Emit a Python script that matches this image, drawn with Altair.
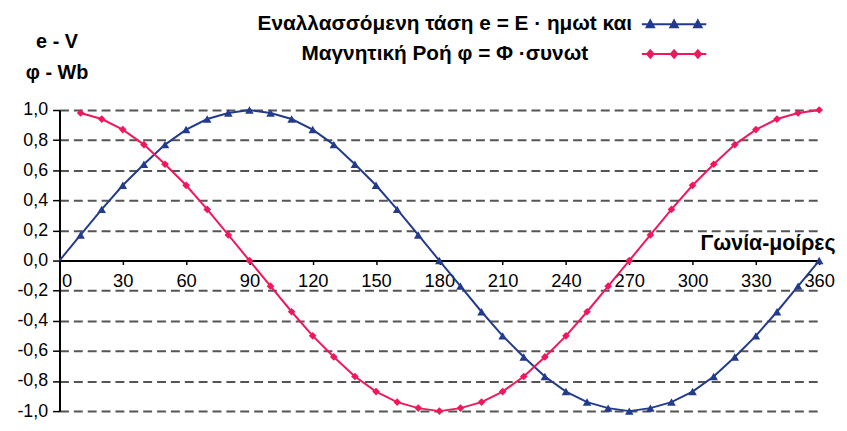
import altair as alt
import pandas as pd

# ---- data ----
series_e = "Εναλλασσόμενη τάση e = E · ημωt και"
series_phi = "Μαγνητική Ροή φ = Φ ·συνωt"

angles_e = [0, 10, 20, 30, 40, 50, 60, 70, 80, 90, 100, 110, 120, 130, 140, 150, 160, 170, 180,
            190, 200, 210, 220, 230, 240, 250, 260, 270, 280, 290, 300, 310, 320, 330, 340, 350, 360]
values_e = [0.00, 0.17, 0.34, 0.50, 0.64, 0.77, 0.87, 0.94, 0.98, 1.00, 0.98, 0.94, 0.87, 0.77, 0.64,
            0.50, 0.34, 0.17, 0.00, -0.17, -0.34, -0.50, -0.64, -0.77, -0.87, -0.94, -0.98, -1.00,
            -0.98, -0.94, -0.87, -0.77, -0.64, -0.50, -0.34, -0.17, 0.00]

angles_phi = [10, 20, 30, 40, 50, 60, 70, 80, 90, 100, 110, 120, 130, 140, 150, 160, 170, 180,
              190, 200, 210, 220, 230, 240, 250, 260, 270, 280, 290, 300, 310, 320, 330, 340, 350, 360]
values_phi = [0.98, 0.94, 0.87, 0.77, 0.64, 0.50, 0.34, 0.17, 0.00, -0.17, -0.34, -0.50, -0.64, -0.77,
              -0.87, -0.94, -0.98, -1.00, -0.98, -0.94, -0.87, -0.77, -0.64, -0.50, -0.34, -0.17, 0.00,
              0.17, 0.34, 0.50, 0.64, 0.77, 0.87, 0.94, 0.98, 1.00]

x_ticks = [0, 30, 60, 90, 120, 150, 180, 210, 240, 270, 300, 330, 360]
y_ticks = [-1.0, -0.8, -0.6, -0.4, -0.2, 0.0, 0.2, 0.4, 0.6, 0.8, 1.0]

x_title = "Γωνία-μοίρες"
y_title = ["e - V", "φ - Wb"]

BLUE = "#233b8c"
RED = "#f0185c"
FONT = "Liberation Sans"

df_e = pd.DataFrame({"angle": angles_e, "value": values_e, "series": series_e})
df_phi = pd.DataFrame({"angle": angles_phi, "value": values_phi, "series": series_phi})

W, H = 767, 304

# legend symbols: line with three markers (custom paths)
tri_path = ("M-6.5,0L6.5,0"
            "M-4.8,-0.8L-4.05,0.6L-5.55,0.6Z"
            "M0,-0.8L0.75,0.6L-0.75,0.6Z"
            "M4.8,-0.8L5.55,0.6L4.05,0.6Z")
dia_path = ("M-6.5,0L6.5,0"
            "M-4.8,-0.75L-4.15,0L-4.8,0.75L-5.45,0Z"
            "M0,-0.75L0.65,0L0,0.75L-0.65,0Z"
            "M4.8,-0.75L5.45,0L4.8,0.75L4.15,0Z")


def make_legend(path, color, y):
    return alt.Legend(
        title=None,
        orient="none",
        legendX=610,
        legendY=y,
        padding=0,
        symbolType=path,
        symbolSize=100,
        symbolStrokeWidth=2,
        symbolStrokeColor=color,
        symbolFillColor=color,
        symbolOpacity=1,
        labelFont=FONT,
        labelFontSize=21,
        labelFontWeight="bold",
        labelColor="black",
        labelLimit=700,
        labelAlign="center",
        labelOffset={"expr": "-242"},
    )


x_enc = alt.X(
    "angle:Q",
    scale=alt.Scale(domain=[0, 360], nice=False, zero=False),
    axis=alt.Axis(
        values=x_ticks,
        tickCount=40,
        orient="bottom",
        offset=-H / 2,
        grid=False,
        domainColor="black",
        domainWidth=2,
        tickColor="black",
        tickSize=4,
        tickWidth=1.5,
        labelFont=FONT,
        labelFontSize=18.5,
        labelColor="black",
        labelPadding=7,
        labelOverlap=False,
        labelAlign={"condition": {"test": "datum.value == 0", "value": "left"}, "value": "center"},
        labelOffset={"condition": {"test": "datum.value == 0", "value": 2}, "value": 0},
        title=x_title,
        titleFont=FONT,
        titleFontSize=21.5,
        titleFontWeight="bold",
        titleColor="black",
        titleAlign="right",
        titleBaseline="alphabetic",
        titleX=783,
        titleY=-11,
    ),
)

y_enc = alt.Y(
    "value:Q",
    scale=alt.Scale(domain=[-1, 1], nice=False),
    axis=alt.Axis(
        values=y_ticks,
        tickCount=40,
        labelExpr="replace(replace(format(datum.value, '.1f'), '.', ','), '\u2212', '-')",
        labelOverlap=False,
        domainColor="black",
        domainWidth=2,
        tickColor="black",
        tickSize=7,
        tickWidth=1.5,
        labelFont=FONT,
        labelFontSize=18,
        labelColor="black",
        labelPadding=5,
        grid=True,
        gridColor="#555555",
        gridWidth=2,
        gridDash=[9, 5],
        gridOpacity={"condition": {"test": "datum.value == 0", "value": 0}, "value": 1},
        title=y_title,
        titleFont=FONT,
        titleFontSize=20,
        titleFontWeight="bold",
        titleColor="black",
        titleAngle=0,
        titleAlign="center",
        titleBaseline="alphabetic",
        titleLineHeight=31,
        titleX=-3,
        titleY=-63,
    ),
)

line_e = alt.Chart(df_e).mark_line(strokeWidth=2, color=BLUE).encode(x=x_enc, y=y_enc)
line_phi = alt.Chart(df_phi).mark_line(strokeWidth=2, color=RED).encode(x=alt.X("angle:Q"), y=alt.Y("value:Q"))

pts_e = alt.Chart(df_e).transform_filter("datum.angle > 0").mark_point(
    filled=True, size=75, opacity=1, shape="triangle-up"
).encode(
    x=alt.X("angle:Q"),
    y=alt.Y("value:Q"),
    color=alt.Color("series:N", scale=alt.Scale(domain=[series_e], range=[BLUE]),
                    legend=make_legend(tri_path, BLUE, -97)),
)

pts_phi = alt.Chart(df_phi).mark_point(
    filled=True, size=60, opacity=1, shape="diamond"
).encode(
    x=alt.X("angle:Q"),
    y=alt.Y("value:Q"),
    color=alt.Color("series:N", scale=alt.Scale(domain=[series_phi], range=[RED]),
                    legend=make_legend(dia_path, RED, -67)),
)

chart = alt.layer(line_e, line_phi, pts_e, pts_phi).resolve_scale(
    color="independent"
).properties(
    width=W,
    height=H,
    autosize="none",
    padding={"left": 52, "top": 101, "right": 20, "bottom": 10},
    background="white",
).configure_view(stroke=None)

chart.save("out.html", embed_options={"renderer": "svg", "actions": False})
